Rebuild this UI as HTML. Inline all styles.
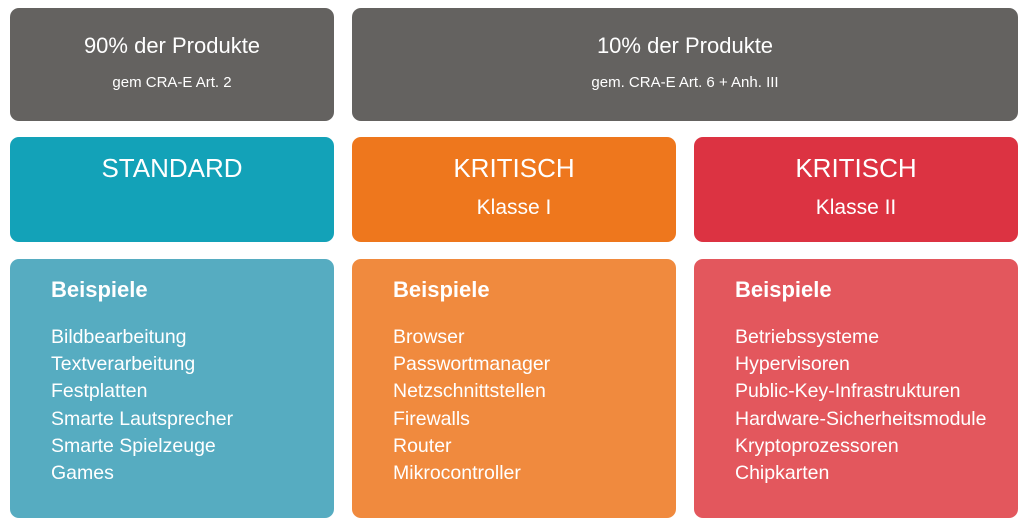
<!DOCTYPE html>
<html><head><meta charset="utf-8"><style>
body{margin:0;width:1024px;height:527px;background:#fff;font-family:"Liberation Sans",sans-serif;position:relative;overflow:hidden}
.b{position:absolute;border-radius:9px;color:#fff;box-sizing:border-box}
.g{background:#646260;top:8px;height:113px;text-align:center}
.g .t{position:absolute;left:0;right:0;top:25px;font-size:22px}
.g .s{position:absolute;left:0;right:0;top:66px;font-size:15px}
.h{top:137px;height:105px;text-align:center}
.h .t1{position:absolute;left:0;right:0;top:16px;font-size:26px}
.h .t2{position:absolute;left:0;right:0;top:59px;font-size:21px}
.e{top:259px;height:259px;padding:17px 0 0 41px}
.e .bh{font-weight:bold;font-size:22px;line-height:28px;margin-bottom:20px}
.e .it{font-size:19.5px;line-height:27.2px}
</style></head><body>
<div class="b g" style="left:10px;width:324px"><div class="t">90% der Produkte</div><div class="s">gem CRA-E Art. 2</div></div>
<div class="b g" style="left:352px;width:666px"><div class="t">10% der Produkte</div><div class="s">gem. CRA-E Art. 6 + Anh. III</div></div>

<div class="b h" style="left:10px;width:324px;background:#13a2b8"><div class="t1">STANDARD</div></div>
<div class="b h" style="left:352px;width:324px;background:#ee771d"><div class="t1">KRITISCH</div><div class="t2">Klasse I</div></div>
<div class="b h" style="left:694px;width:324px;background:#dc3342"><div class="t1">KRITISCH</div><div class="t2">Klasse II</div></div>

<div class="b e" style="left:10px;width:324px;background:#56acc1"><div class="bh">Beispiele</div><div class="it">Bildbearbeitung<br>Textverarbeitung<br>Festplatten<br>Smarte Lautsprecher<br>Smarte Spielzeuge<br>Games</div></div>
<div class="b e" style="left:352px;width:324px;background:#f08a3e"><div class="bh">Beispiele</div><div class="it">Browser<br>Passwortmanager<br>Netzschnittstellen<br>Firewalls<br>Router<br>Mikrocontroller</div></div>
<div class="b e" style="left:694px;width:324px;background:#e3575d"><div class="bh">Beispiele</div><div class="it">Betriebssysteme<br>Hypervisoren<br>Public-Key-Infrastrukturen<br>Hardware-Sicherheitsmodule<br>Kryptoprozessoren<br>Chipkarten</div></div>
</body></html>
